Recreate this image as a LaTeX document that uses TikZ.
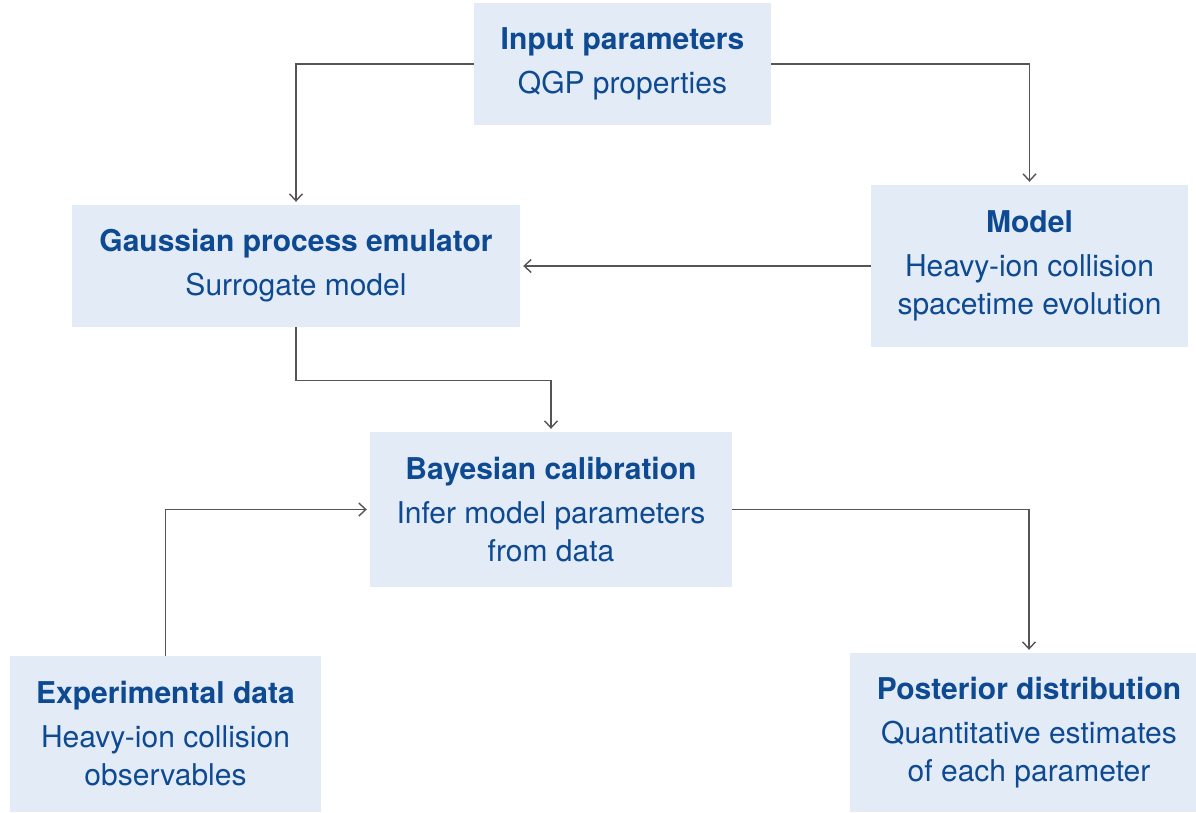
\documentclass[tikz,border=0pt]{standalone}
\usepackage{fontspec}
\setmainfont{TeX Gyre Heros}
\usetikzlibrary{arrows.meta}
\definecolor{boxfill}{HTML}{E3EBF6}
\definecolor{boxtext}{HTML}{0E4A92}
\definecolor{linkgray}{HTML}{555555}
\tikzset{
  stage/.style={fill=boxfill, text=boxtext, align=center, inner sep=0pt,
    font=\fontsize{30}{38}\selectfont},
  link/.style={draw=linkgray, line width=1.4pt,
    -{Straight Barb[length=7pt,width=13pt,line width=1.4pt]}, shorten >=3pt}
}
\newcommand{\stagetitle}[1]{{\bfseries #1}\\[6pt]}
\begin{document}
\begin{tikzpicture}[x=1pt,y=-1pt]
  \useasboundingbox (0,0) rectangle (1196,812);

  \node[stage, minimum width=297pt, minimum height=122pt] (inp) at (622.5,64)
    {\stagetitle{Input parameters}QGP properties};
  \node[stage, minimum width=448pt, minimum height=122pt] (gpe) at (296,266)
    {\stagetitle{Gaussian process emulator}Surrogate model};
  \node[stage, minimum width=317pt, minimum height=162pt] (mdl) at (1029.5,266)
    {\stagetitle{Model}Heavy-ion collision\\spacetime evolution};
  \node[stage, minimum width=362pt, minimum height=155pt] (bay) at (551,509.5)
    {\stagetitle{Bayesian calibration}Infer model parameters\\from data};
  \node[stage, minimum width=311pt, minimum height=156pt] (exd) at (165.5,734)
    {\stagetitle{Experimental data}Heavy-ion collision\\observables};
  \node[stage, minimum width=358pt, minimum height=159pt] (pst) at (1029,732.5)
    {\stagetitle{Posterior distribution}Quantitative estimates\\of each parameter};

  \draw[link] (inp.west) -| (gpe.north);
  \draw[link] (inp.east) -| (mdl.north);
  \draw[link] (mdl.west) -- (gpe.east);
  \draw[link] (gpe.south) -- ++(0,53) -| (bay.north);
  \draw[link] (exd.north) |- (bay.west);
  \draw[link] (bay.east) -| (pst.north);
\end{tikzpicture}
\end{document}
